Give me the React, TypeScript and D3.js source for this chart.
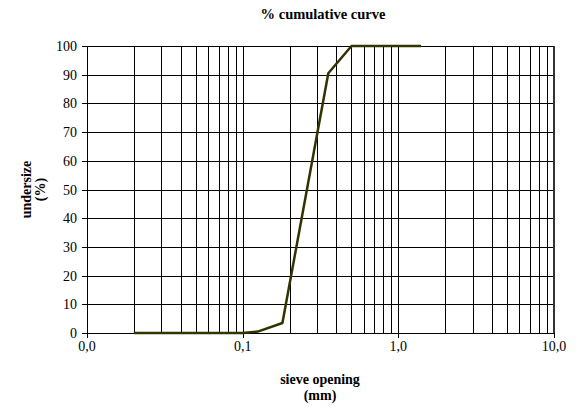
import React from "react";
import * as d3 from "d3";

const sizes = [0.02, 0.04, 0.063, 0.1, 0.125, 0.18, 0.355, 0.5, 1.0, 1.4];
const undersize = [0, 0, 0, 0, 0.5, 3.5, 90.5, 100, 100, 100];
const xTickValues = [0.01, 0.1, 1, 10];
const xTickLabels = ["0,0", "0,1", "1,0", "10,0"];
const yTicks = [0, 10, 20, 30, 40, 50, 60, 70, 80, 90, 100];

const W = 580, H = 407;
const L = 87, R = 554, T = 46, B = 333;
const font = "'Liberation Serif', 'Times New Roman', serif";

export default function App() {
  const x = d3.scaleLog().domain([0.01, 10]).range([L, R]);
  const y = d3.scaleLinear().domain([0, 100]).range([B, T]);
  const minor: number[] = [];
  [0.01, 0.1, 1].forEach((d) => {
    for (let i = 2; i <= 9; i++) minor.push(d * i);
  });
  const vLines = [...minor, 0.1, 1];
  const line = d3
    .line<number>()
    .x((_, i) => x(sizes[i]))
    .y((d) => y(d));
  return (
    <svg width={W} height={H} style={{ position: "absolute", left: 0, top: 0 }} fontFamily={font}>
      <rect width={W} height={H} fill="#fff" />
      <text x={323} y={19} textAnchor="middle" fontSize={14.5} fontWeight="bold">
        % cumulative curve
      </text>
      <g shapeRendering="crispEdges">
        {yTicks.slice(1).map((t) => (
          <line key={"h" + t} x1={L} x2={R} y1={Math.round(y(t)) + 0.5} y2={Math.round(y(t)) + 0.5} stroke="#000" />
        ))}
        {vLines.map((v, i) => (
          <line key={"v" + i} x1={Math.round(x(v)) + 0.5} x2={Math.round(x(v)) + 0.5} y1={T} y2={B} stroke="#000" />
        ))}
        <line x1={R} x2={R} y1={T} y2={B} stroke="#333" strokeWidth={2} />
        <line x1={L + 0.5} x2={L + 0.5} y1={T} y2={B} stroke="#000" />
        <line x1={L} x2={R} y1={B + 0.5} y2={B + 0.5} stroke="#000" />
        {yTicks.map((t) => (
          <line key={"yt" + t} x1={L - 5} x2={L} y1={Math.round(y(t)) + 0.5} y2={Math.round(y(t)) + 0.5} stroke="#000" />
        ))}
        {xTickValues.map((t) => (
          <line key={"xt" + t} x1={Math.round(x(t)) + 0.5} x2={Math.round(x(t)) + 0.5} y1={B} y2={B + 5} stroke="#000" />
        ))}
      </g>
      <path d={line(undersize) || ""} fill="none" stroke="#333300" strokeWidth={2.5} strokeLinejoin="round" />
      {yTicks.map((t) => (
        <text key={"yl" + t} x={L - 10} y={y(t) + 5} textAnchor="end" fontSize={14}>
          {t}
        </text>
      ))}
      {xTickValues.map((t, i) => (
        <text key={"xl" + t} x={x(t)} y={351} textAnchor="middle" fontSize={14}>
          {xTickLabels[i]}
        </text>
      ))}
      <text x={320} y={384} textAnchor="middle" fontSize={14} fontWeight="bold">
        sieve opening
      </text>
      <text x={320} y={400} textAnchor="middle" fontSize={14} fontWeight="bold">
        (mm)
      </text>
      <g transform={`translate(31,${(T + B) / 2}) rotate(-90)`}>
        <text x={0} y={0} textAnchor="middle" fontSize={14} fontWeight="bold">
          undersize
        </text>
        <text x={0} y={14} textAnchor="middle" fontSize={14} fontWeight="bold">
          (%)
        </text>
      </g>
    </svg>
  );
}
